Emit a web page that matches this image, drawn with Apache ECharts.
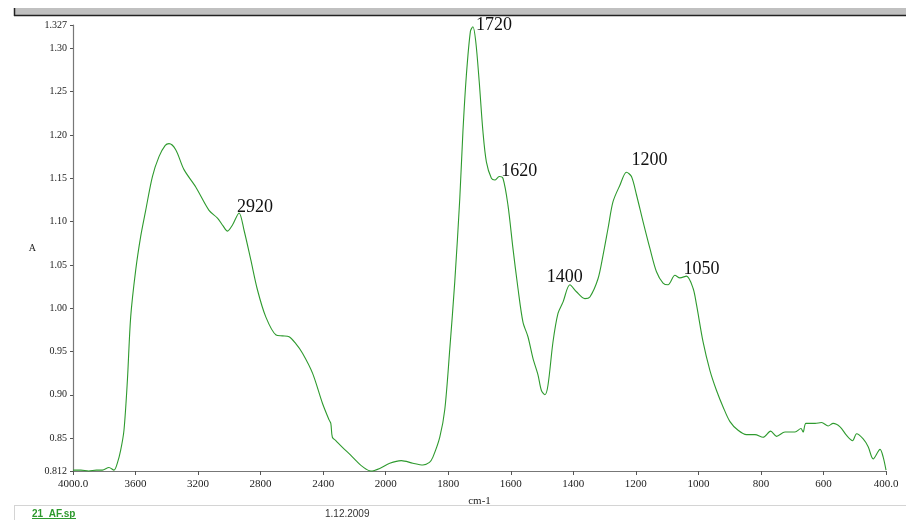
<!DOCTYPE html>
<html>
<head>
<meta charset="utf-8">
<script src="https://cdn.jsdelivr.net/npm/echarts@6/dist/echarts.min.js"></script>
<style>
html,body{margin:0;padding:0;background:#fff;}
#chart{width:906px;height:520px;}
</style>
</head>
<body>
<div id="chart"></div>
<script>
// ---- data ----
var wavenumber = [4000,3950,3900,3850,3812,3770,3738,3715,3695,3674,3652,3631,3599,3567,3535,3492,3450,3410,3386,3343,3290,3215,3130,3076,3040,3012,2980,2938,2906,2863,2820,2767,2701,2660,2618,2575,2532,2468,2404,2362,2351,2341,2319,2275,2234,2190,2148,2095,2038,1987,1950,1913,1881,1860,1849,1827,1811,1795,1779,1763,1753,1742,1729,1721,1712,1701,1689,1678,1662,1651,1637,1625,1609,1593,1577,1561,1545,1529,1513,1502,1491,1481,1465,1449,1433,1411,1390,1363,1347,1321,1305,1289,1273,1251,1230,1214,1198,1177,1155,1134,1113,1097,1075,1059,1038,1017,1006,985,963,942,921,899,873,846,819,793,769,750,723,691,672,665,656,627,606,585,569,547,526,507,494,473,457,441,419,409,400];
var absorbance = [0.813,0.813,0.812,0.813,0.813,0.816,0.813,0.822,0.836,0.859,0.917,0.990,1.044,1.083,1.113,1.152,1.175,1.188,1.190,1.183,1.160,1.140,1.113,1.104,1.095,1.089,1.096,1.110,1.090,1.056,1.021,0.990,0.969,0.968,0.967,0.959,0.948,0.925,0.890,0.871,0.867,0.851,0.847,0.839,0.832,0.824,0.817,0.812,0.815,0.821,0.824,0.821,0.819,0.822,0.828,0.851,0.883,0.953,1.031,1.127,1.204,1.269,1.320,1.325,1.308,1.262,1.204,1.169,1.150,1.148,1.152,1.150,1.119,1.069,1.023,0.984,0.967,0.942,0.923,0.905,0.900,0.911,0.961,0.994,1.007,1.027,1.019,1.011,1.013,1.034,1.061,1.092,1.123,1.142,1.157,1.152,1.131,1.100,1.069,1.042,1.029,1.027,1.038,1.035,1.037,1.023,1.004,0.961,0.928,0.905,0.886,0.869,0.859,0.854,0.854,0.851,0.858,0.852,0.857,0.857,0.861,0.857,0.867,0.867,0.868,0.864,0.867,0.863,0.853,0.847,0.855,0.849,0.840,0.826,0.837,0.828,0.813];

var peakLabels = ['2920','1720','1620','1400','1200','1050'];
var peakWn     = [2938, 1721, 1637, 1411, 1230, 1038];
var peakA      = [1.110, 1.325, 1.152, 1.027, 1.157, 1.037];

var xTickWn     = [4000,3600,3200,2800,2400,2000,1800,1600,1400,1200,1000,800,600,400];
var xTickLabels = ['4000.0','3600','3200','2800','2400','2000','1800','1600','1400','1200','1000','800','600','400.0'];
var yTicks      = [0.812,0.85,0.90,0.95,1.00,1.05,1.10,1.15,1.20,1.25,1.30,1.327];
var yTickLabels = ['0.812','0.85','0.90','0.95','1.00','1.05','1.10','1.15','1.20','1.25','1.30','1.327'];

var fileName = '21_AF.sp';
var fileDate = '1.12.2009';

// IR split scale: 4000-2000 compressed by factor 2
function toU(wn){ return wn > 2000 ? 2000 + (wn - 2000) / 2 : wn; }
function fromU(u){ return u > 2000 ? 2000 + (u - 2000) * 2 : u; }

var lineData = wavenumber.map(function(w,i){ return [toU(w), absorbance[i]]; });
var labelOffsets = [[-2,-5.5],[3,-1],[2,-5.5],[-23,-8],[5,-12],[-3,-6.5]];
var markData = peakLabels.map(function(t,i){
  return {
    coord:[toU(peakWn[i]), peakA[i]],
    value:t,
    label:{offset:labelOffsets[i]}
  };
});

var chart = echarts.init(document.getElementById('chart'), null, {renderer:'canvas'});
var green = '#2e9a2e';
var option = {
  animation:false,
  backgroundColor:'#ffffff',
  grid:{left:73, right:20, top:25, bottom:49},
  xAxis:{
    type:'value', inverse:true, min:400, max:3000, interval:200,
    name:'cm-1', nameLocation:'middle', nameGap:25,
    nameTextStyle:{fontFamily:'Liberation Serif', fontSize:11, color:'#222'},
    axisLine:{show:true, lineStyle:{color:'#777', width:1.2}},
    axisTick:{show:true, length:4, inside:false, lineStyle:{color:'#555'}},
    axisLabel:{
      fontFamily:'Liberation Serif', fontSize:11, color:'#222', margin:8,
      showMinLabel:true, showMaxLabel:true,
      formatter:function(u){
        var wn = Math.round(fromU(u));
        var k = xTickWn.indexOf(wn);
        return k >= 0 ? xTickLabels[k] : String(wn);
      }
    },
    splitLine:{show:false}
  },
  yAxis:{
    type:'value', min:0.812, max:1.327,
    name:'A', nameLocation:'middle', nameGap:37, nameRotate:0,
    nameTextStyle:{fontFamily:'Liberation Serif', fontSize:10, color:'#222'},
    axisLine:{show:true, lineStyle:{color:'#777', width:1.2}},
    axisTick:{show:true, length:3, customValues:yTicks, lineStyle:{color:'#555'}},
    axisLabel:{
      fontFamily:'Liberation Serif', fontSize:10, color:'#222', margin:6,
      customValues:yTicks,
      formatter:function(v){
        for (var i=0;i<yTicks.length;i++){ if (Math.abs(yTicks[i]-v)<1e-6) return yTickLabels[i]; }
        return v.toFixed(2);
      }
    },
    splitLine:{show:false}
  },
  series:[{
    type:'line',
    data:lineData,
    showSymbol:false,
    smooth:0.3,
    lineStyle:{color:green, width:1.1},
    clip:false,
    markPoint:{
      symbol:'circle', symbolSize:0,
      label:{
        show:true, position:'right', distance:0,
        fontFamily:'Liberation Serif', fontSize:18, color:'#111',
        formatter:function(p){ return p.value; }
      },
      data:markData
    }
  }],
  graphic:[
    {type:'rect', shape:{x:14, y:8, width:892, height:7}, style:{fill:'#c0c0c0'}, silent:true},
    {type:'line', shape:{x1:14, y1:15.5, x2:906, y2:15.5}, style:{stroke:'#222', lineWidth:1.5}, silent:true},
    {type:'line', shape:{x1:14.5, y1:8, x2:14.5, y2:16}, style:{stroke:'#222', lineWidth:1.5}, silent:true},
    {type:'line', shape:{x1:14, y1:505.5, x2:906, y2:505.5}, style:{stroke:'#d4d4d4', lineWidth:1}, silent:true},
    {type:'line', shape:{x1:14.5, y1:505, x2:14.5, y2:520}, style:{stroke:'#d4d4d4', lineWidth:1}, silent:true},
    {type:'text', x:32, y:514, style:{text:fileName, fill:green, font:'bold 10px "Liberation Sans"', textVerticalAlign:'middle'}, silent:true},
    {type:'line', shape:{x1:32, y1:518.5, x2:76, y2:518.5}, style:{stroke:green, lineWidth:1}, silent:true},
    {type:'text', x:325, y:514, style:{text:fileDate, fill:'#333', font:'10px "Liberation Sans"', textVerticalAlign:'middle'}, silent:true}
  ]
};
chart.setOption(option);
</script>
</body>
</html>
